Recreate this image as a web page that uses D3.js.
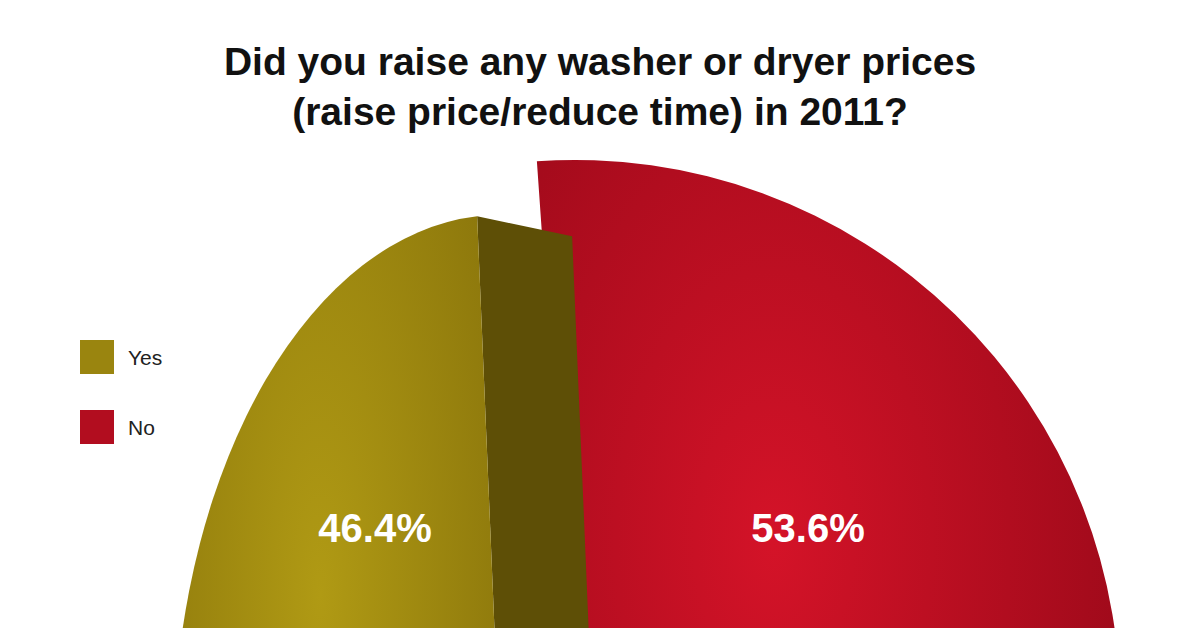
<!DOCTYPE html>
<html><head><meta charset="utf-8">
<script src="https://cdn.jsdelivr.net/npm/d3@7"></script>
<style>body{margin:0;background:#fff}svg{display:block}</style>
</head><body>
<svg id="c" width="1200" height="628"></svg>
<script>
const categories = ['Yes', 'No'];
const values = [46.4, 53.6];
const labels = ['46.4%', '53.6%'];
const titleLines = ['Did you raise any washer or dryer prices', '(raise price/reduce time) in 2011?'];

const svg = d3.select('#c');
const defs = svg.append('defs');
function grad(id, c0, c1) {
  const g = defs.append('radialGradient').attr('id', id)
    .attr('cx', '45%').attr('cy', '35%').attr('r', '75%');
  g.append('stop').attr('offset', '0%').attr('stop-color', c0);
  g.append('stop').attr('offset', '100%').attr('stop-color', c1);
}
grad('gYes', '#b09a14', '#85700a');
grad('gNo', '#d41328', '#8e0716');

const colors = ['url(#gYes)', 'url(#gNo)'];
const legendColors = ['#9a850f', '#b20d1f'];
const sideColors = ['#5e4f06', '#5a0410'];

const cx = 575, cy = 705, r = 545;
const start = -0.07;
const pie = d3.pie().sort(null).startAngle(start).endAngle(start + 2 * Math.PI);
const arcs = pie([values[1], values[0]]);
const noArc = arcs[0], yesArc = arcs[1];
const arc = d3.arc().innerRadius(0).outerRadius(r);

const g = svg.append('g').attr('transform', `translate(${cx},${cy})`);

// dark side of No (only the lower right part)
g.append('path').attr('d', arc({startAngle: 1.6, endAngle: noArc.endAngle}))
  .attr('fill', sideColors[1]).attr('transform', 'translate(0,45)');
g.append('path').attr('d', arc(noArc)).attr('fill', colors[1]);

// Yes slice exploded and seen in perspective
const yg = g.append('g').attr('transform', 'translate(-75,55)');
const ea = yesArc.endAngle;
const sx = 0.6;
const ex = r * Math.sin(ea) * sx, ey = -r * Math.cos(ea);
const thick = 95;
yg.append('path')
  .attr('d', `M0,0 L${ex},${ey} L${ex + thick},${ey + 20} L${thick},20 Z`)
  .attr('fill', sideColors[0]);
yg.append('path').attr('d', arc(yesArc)).attr('fill', colors[0])
  .attr('transform', `scale(${sx},1)`);

// value labels
svg.append('text').attr('x', 375).attr('y', 542).text(labels[0]);
svg.append('text').attr('x', 808).attr('y', 542).text(labels[1]);
svg.selectAll('text').attr('fill', '#fff').attr('text-anchor', 'middle')
  .attr('font-family', 'Liberation Sans, Arial, sans-serif')
  .attr('font-weight', 'bold').attr('font-size', 40);

// title
svg.append('g').selectAll('text').data(titleLines).join('text')
  .attr('x', 600).attr('y', (d, i) => 75 + i * 50)
  .attr('text-anchor', 'middle').attr('font-family', 'Liberation Sans, Arial, sans-serif')
  .attr('font-weight', 'bold').attr('font-size', 39).attr('fill', '#111').text(d => d);

// legend
const lg = svg.append('g').selectAll('g').data(categories).join('g')
  .attr('transform', (d, i) => `translate(80,${340 + i * 70})`);
lg.append('rect').attr('width', 34).attr('height', 34).attr('fill', (d, i) => legendColors[i]);
lg.append('text').attr('x', 48).attr('y', 25).attr('font-size', 21)
  .attr('font-family', 'Liberation Sans, Arial, sans-serif').attr('fill', '#222').text(d => d);
</script>
</body></html>
